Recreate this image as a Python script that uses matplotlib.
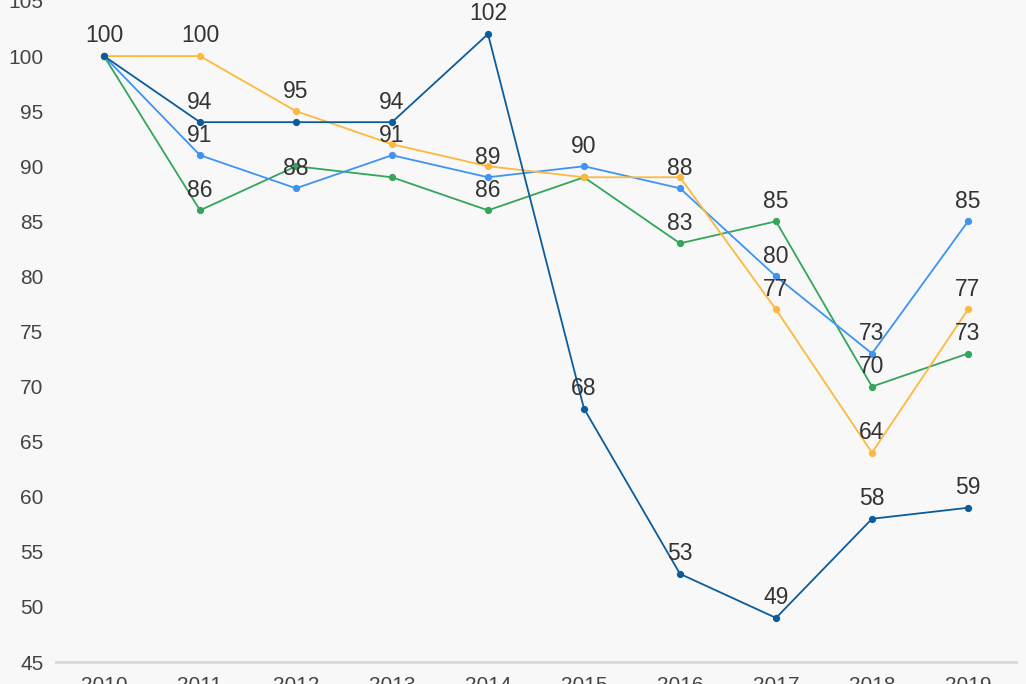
import matplotlib as mpl
import matplotlib.pyplot as plt
import numpy as np

plt.rcParams["font.family"] = ["Liberation Sans", "DejaVu Sans"]

years = ["2010", "2011", "2012", "2013", "2014", "2015", "2016", "2017", "2018", "2019"]

green = [100, 86, 90, 89, 86, 89, 83, 85, 70, 73]
light_blue = [100, 91, 88, 91, 89, 90, 88, 80, 73, 85]
orange = [100, 100, 95, 92, 90, 89, 89, 77, 64, 77]
dark_blue = [100, 94, 94, 94, 102, 68, 53, 49, 58, 59]

# which points carry a value label (the rest were hidden by overlap in the original)
green_labels = [1, 4, 6, 7, 8, 9]
light_blue_labels = [1, 2, 3, 4, 5, 6, 7, 8, 9]
orange_labels = [1, 2, 7, 8, 9]
dark_blue_labels = [0, 1, 3, 4, 5, 6, 7, 8, 9]

series = [
    (green, green_labels, "#34a55b"),
    (light_blue, light_blue_labels, "#3f93f2"),
    (orange, orange_labels, "#fdb93e"),
    (dark_blue, dark_blue_labels, "#0c5c9c"),
]

BG = "#f8f8f8"

fig = plt.figure(figsize=(10.26, 6.84), dpi=100, facecolor=BG)
ax = fig.add_axes([56 / 1026, 22 / 684, 960 / 1026, 661 / 684], facecolor=BG)

x = np.arange(len(years))
for values, labels, color in series:
    ax.plot(x, values, color=color, lw=1.3, marker="o", ms=4.2, mec=color, mfc=color, zorder=3)
    for i in labels:
        ax.annotate(str(values[i]), (x[i], values[i]), xytext=(0, 14.5), textcoords="offset points",
                    ha="center", va="center", fontsize=16.5, color="#333333", zorder=5)

ax.set_xlim(-0.5, 9.5)
ax.set_ylim(45, 105)
ax.set_yticks(range(45, 106, 5))
ax.set_xticks(x)
ax.set_xticklabels(years)

for side in ["top", "right", "left"]:
    ax.spines[side].set_visible(False)
ax.spines["bottom"].set_color("#d9d9d9")
ax.spines["bottom"].set_linewidth(2)

ax.tick_params(axis="both", length=0, labelsize=15, labelcolor="#444444")
ax.tick_params(axis="y", pad=9)
ax.tick_params(axis="x", pad=10)

fig.savefig("out.png", dpi=100, facecolor=BG)
